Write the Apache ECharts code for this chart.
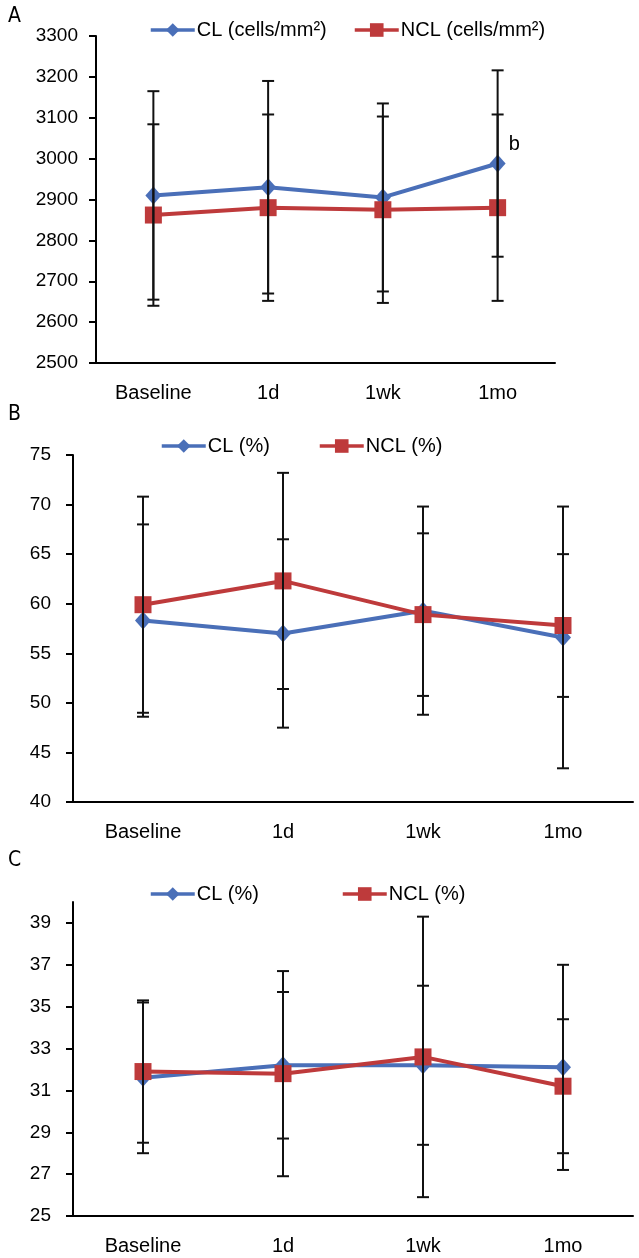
<!DOCTYPE html>
<html>
<head>
<meta charset="utf-8">
<script src="https://cdn.jsdelivr.net/npm/echarts@6/dist/echarts.min.js"></script>
<style>
  html, body { margin: 0; padding: 0; background: #fff; }
  #chart { width: 639px; height: 1258px; }
</style>
</head>
<body>
<div id="chart"></div>
<script>
// three stacked panels: endothelial density (A), CV/% (B), hexagonality (C)

const CATEGORIES = ['Baseline', '1d', '1wk', '1mo'];

// panel A — cells/mm2, mean and SD
const A_CL = [2910, 2930, 2905, 2988];
const A_CL_SD = [255, 260, 230, 228];
const A_NCL = [2862, 2880, 2875, 2880];
const A_NCL_SD = [222, 228, 228, 228];
const A_CL_NOTE = ['', '', '', 'b'];

// panel B — %
const B_CL = [58.3, 57.0, 59.3, 56.6];
const B_CL_SD = [9.7, 9.5, 10.5, 13.2];
const B_NCL = [59.9, 62.3, 58.9, 57.8];
const B_NCL_SD = [10.9, 10.9, 8.2, 7.2];

// panel C — %
const C_CL = [31.6, 32.2, 32.2, 32.1];
const C_CL_SD = [3.6, 3.5, 3.8, 4.9];
const C_NCL = [31.9, 31.8, 32.6, 31.2];
const C_NCL_SD = [3.4, 4.9, 6.7, 3.2];
const C_TICKS = [25, 27, 29, 31, 33, 35, 37, 39];

const BLUE = '#4A6FB8';
const RED = '#BE3A3B';
const FONT = '"Liberation Sans", Arial, sans-serif';

const chart = echarts.init(document.getElementById('chart'), null, { renderer: 'canvas' });

function errRender(params, api) {
  const i = api.value(0);
  const lo = api.coord([i, api.value(1)]);
  const hi = api.coord([i, api.value(2)]);
  const w = 6;
  const st = { stroke: '#111', lineWidth: 2 };
  return {
    type: 'group',
    children: [
      { type: 'line', shape: { x1: lo[0], y1: lo[1], x2: hi[0], y2: hi[1] }, style: st },
      { type: 'line', shape: { x1: lo[0] - w, y1: lo[1], x2: lo[0] + w, y2: lo[1] }, style: st },
      { type: 'line', shape: { x1: hi[0] - w, y1: hi[1], x2: hi[0] + w, y2: hi[1] }, style: st },
    ],
  };
}

const errData = (vals, sd) => vals.map((v, i) => [i, v - sd[i], v + sd[i]]);

function xAxisFor(gi) {
  return {
    type: 'category', gridIndex: gi, data: CATEGORIES,
    axisLine: { lineStyle: { color: '#000', width: 2 } },
    axisTick: { length: 7, lineStyle: { color: '#000', width: 2 } },
    axisLabel: { color: '#000', fontSize: 20, fontFamily: FONT, margin: 20 },
  };
}

function yAxisFor(gi, min, max, interval, margin, extra) {
  return Object.assign({
    type: 'value', gridIndex: gi, min, max, interval,
    axisLine: { show: true, lineStyle: { color: '#000', width: 2 } },
    axisTick: { show: true, length: 7, lineStyle: { color: '#000', width: 2 } },
    axisLabel: { color: '#000', fontSize: 19, fontFamily: FONT, margin, formatter: v => String(v) },
    splitLine: { show: false },
  }, extra || {});
}

function lineSeries(name, gi, data, color, symbol, size) {
  return {
    name, type: 'line', xAxisIndex: gi, yAxisIndex: gi, data,
    symbol, symbolSize: size,
    lineStyle: { color, width: 4 },
    itemStyle: { color },
    z: 3,
  };
}

function errSeries(gi, vals, sd) {
  return {
    type: 'custom', xAxisIndex: gi, yAxisIndex: gi,
    renderItem: errRender, data: errData(vals, sd),
    encode: { x: 0, y: [1, 2] }, z: 5, silent: true,
  };
}

function legendItem(name, left, top) {
  return {
    data: [name], left, top, itemWidth: 44, itemHeight: 17, itemGap: 0,
    lineStyle: { width: 3.5 },
    textStyle: { color: '#000', fontSize: 20, fontFamily: FONT, padding: [0, 0, 0, -3] },
    selectedMode: false,
  };
}

const letter = (t, top) => ({
  type: 'text', left: 8, top,
  style: { text: t, fontSize: 21, fontFamily: '"DejaVu Sans Condensed", sans-serif', fill: '#000' },
});

const clA = lineSeries('CL (cells/mm²)', 0, A_CL.map((v, i) => ({
  value: v,
  label: A_CL_NOTE[i] ? { show: true, formatter: A_CL_NOTE[i], position: [19, -20], fontSize: 20, color: '#000', fontFamily: FONT } : undefined,
})), BLUE, 'diamond', [16, 18]);

chart.setOption({
  animation: false,
  grid: [
    { left: 96, top: 36, width: 459, height: 327 },
    { left: 73, top: 455, width: 560, height: 347 },
    { left: 73, top: 902, width: 560, height: 314 },
  ],
  xAxis: [xAxisFor(0), xAxisFor(1), xAxisFor(2)],
  yAxis: [
    yAxisFor(0, 2500, 3300, 100, 18),
    yAxisFor(1, 40, 75, 5, 22),
    yAxisFor(2, 25, 40, 2, 22, {
      axisTick: { show: true, length: 7, lineStyle: { color: '#000', width: 2 }, customValues: C_TICKS },
      axisLabel: { color: '#000', fontSize: 19, fontFamily: FONT, margin: 22, customValues: C_TICKS },
    }),
  ],
  legend: [
    legendItem('CL (cells/mm²)', 144, 15),
    legendItem('NCL (cells/mm²)', 348, 15),
    legendItem('CL (%)', 155, 431),
    legendItem('NCL (%)', 313, 431),
    legendItem('CL (%)', 144, 879),
    legendItem('NCL (%)', 336, 879),
  ],
  graphic: [letter('A', 6), letter('B', 404), letter('C', 850)],
  series: [
    clA,
    lineSeries('NCL (cells/mm²)', 0, A_NCL, RED, 'rect', 17),
    errSeries(0, A_CL, A_CL_SD),
    errSeries(0, A_NCL, A_NCL_SD),

    lineSeries('CL (%)', 1, B_CL, BLUE, 'diamond', [16, 18]),
    lineSeries('NCL (%)', 1, B_NCL, RED, 'rect', 17),
    errSeries(1, B_CL, B_CL_SD),
    errSeries(1, B_NCL, B_NCL_SD),

    lineSeries('CL (%)', 2, C_CL, BLUE, 'diamond', [16, 18]),
    lineSeries('NCL (%)', 2, C_NCL, RED, 'rect', 17),
    errSeries(2, C_CL, C_CL_SD),
    errSeries(2, C_NCL, C_NCL_SD),
  ],
});
</script>
</body>
</html>
